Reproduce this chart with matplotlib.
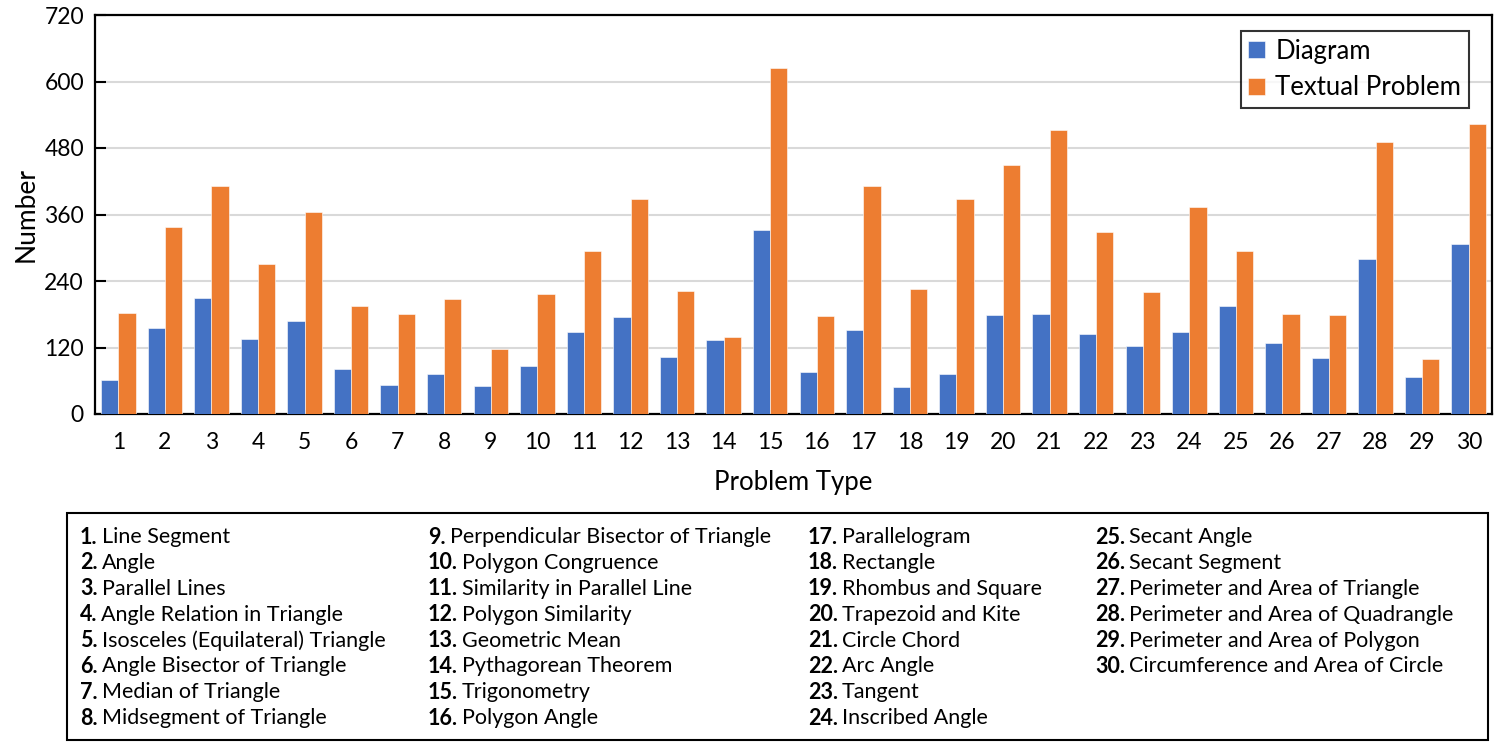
import numpy as np
import matplotlib
matplotlib.use("Agg")
import matplotlib.pyplot as plt
from matplotlib.patches import Rectangle

plt.rcParams['font.family'] = ['Lato', 'DejaVu Sans']

problem_types = list(range(1, 31))

diagram = [61, 155, 210, 135, 167, 81, 52, 72, 51, 87,
           148, 175, 102, 134, 332, 75, 151, 48, 73, 179,
           180, 144, 123, 148, 194, 129, 101, 280, 67, 306]

textual = [183, 337, 412, 271, 364, 194, 181, 207, 117, 216,
           294, 388, 222, 139, 624, 176, 412, 226, 388, 450,
           512, 329, 220, 373, 294, 180, 178, 490, 99, 524]

type_names = [
    "Line Segment", "Angle", "Parallel Lines", "Angle Relation in Triangle",
    "Isosceles (Equilateral) Triangle", "Angle Bisector of Triangle",
    "Median of Triangle", "Midsegment of Triangle",
    "Perpendicular Bisector of Triangle", "Polygon Congruence",
    "Similarity in Parallel Line", "Polygon Similarity", "Geometric Mean",
    "Pythagorean Theorem", "Trigonometry", "Polygon Angle",
    "Parallelogram", "Rectangle", "Rhombus and Square", "Trapezoid and Kite",
    "Circle Chord", "Arc Angle", "Tangent", "Inscribed Angle",
    "Secant Angle", "Secant Segment", "Perimeter and Area of Triangle",
    "Perimeter and Area of Quadrangle", "Perimeter and Area of Polygon",
    "Circumference and Area of Circle",
]

blue = "#4472C4"
orange = "#ED7D31"

W, H = 1494, 747
fig = plt.figure(figsize=(W / 100, H / 100), dpi=100)
ax = fig.add_axes([95 / W, 1 - 414 / H, (1492 - 95) / W, (414 - 15) / H])

x = np.array(problem_types)
bw = 0.37
ax.bar(x - bw / 2, diagram, bw, color=blue, edgecolor="white", linewidth=0.4, label="Diagram", zorder=3)
ax.bar(x + bw / 2, textual, bw, color=orange, edgecolor="white", linewidth=0.4, label="Textual Problem", zorder=3)

ax.set_xlim(0.5, 30.5)
ax.set_ylim(0, 720)
ax.set_yticks(np.arange(0, 721, 120))
ax.set_xticks(x)
ax.set_xticklabels([str(v) for v in problem_types])
ax.yaxis.grid(True, color="#d9d9d9", linewidth=1.5, zorder=0)
ax.tick_params(axis="y", direction="in", length=8, width=1.5, labelsize=16.5, pad=8)
ax.tick_params(axis="x", length=0, labelsize=16.5, pad=13)
for s in ax.spines.values():
    s.set_linewidth(1.6)
    s.set_color("black")

ax.set_xlabel("Problem Type", fontsize=18.5, labelpad=12)
ax.set_ylabel("Number", fontsize=19, labelpad=4)

leg = ax.legend(loc="upper right", bbox_to_anchor=(0.9835, 0.96), fontsize=18.5,
                frameon=True, fancybox=False, edgecolor="black", borderaxespad=0,
                handlelength=0.65, handleheight=0.65, handletextpad=0.4,
                borderpad=0.3, labelspacing=0.45)
leg.get_frame().set_linewidth(1.5)

# box with the list of problem types
fig.patches.append(Rectangle((67 / W, 1 - 740 / H), (1488 - 67) / W, (740 - 513) / H,
                             transform=fig.transFigure, fill=False,
                             edgecolor="black", linewidth=1.5))

col_x = [80, 428, 808, 1095]
row_y = [537 + 25.9 * k for k in range(8)]

renderer = fig.canvas.get_renderer()
for i, name in enumerate(type_names):
    col = i // 8
    row = i % 8
    px = col_x[col] / W
    py = 1 - row_y[row] / H
    t = fig.text(px, py, f"{i + 1}.", fontsize=15.5, fontweight="bold", va="center", ha="left")
    bb = t.get_window_extent(renderer)
    fig.text((bb.x1 + 4) / W, py, name, fontsize=15.5, va="center", ha="left")

fig.savefig("out.png", dpi=100)
